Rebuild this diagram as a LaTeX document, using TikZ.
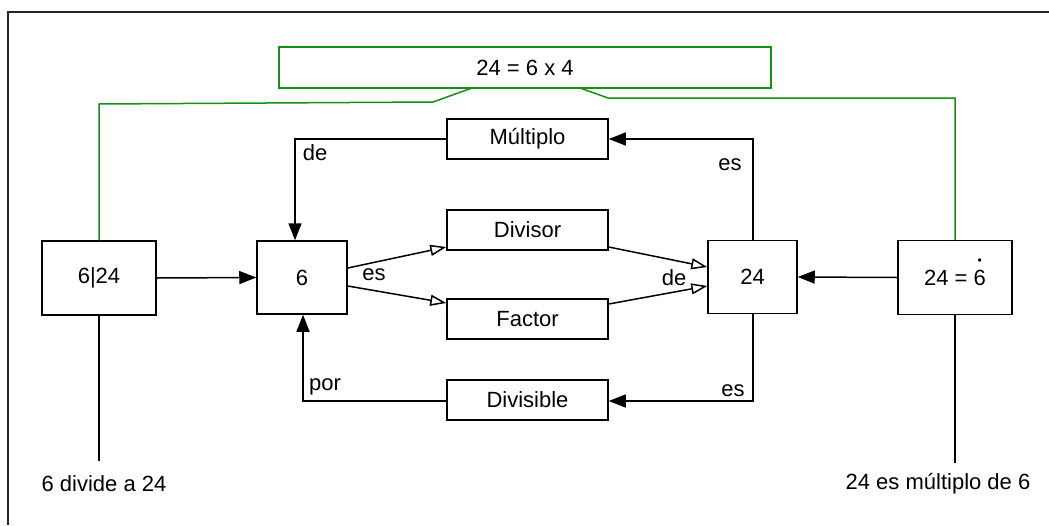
\documentclass[tikz,border=0pt]{standalone}
\usepackage{fontspec}
\setmainfont{Liberation Sans}
\usetikzlibrary{arrows.meta}
\definecolor{linkgreen}{RGB}{20,145,20}
\newcommand{\dotsix}{\ooalign{6\cr\hidewidth\raisebox{0.92em}{\scalebox{0.55}{\textbullet}}\hidewidth\cr}}
\begin{document}
\begin{tikzpicture}[x=1pt,y=-1pt,
  every node/.style={font=\fontsize{22}{26}\selectfont, inner sep=0pt},
  box/.style={draw=black, line width=1.5pt, rectangle, minimum width=#1},
  box/.default=161pt,
  greenbox/.style={draw=linkgreen, line width=1.5pt, rectangle},
  link/.style={line width=1.5pt, -{Triangle[length=17pt,width=13pt]}},
  openlink/.style={line width=1.5pt, -{Triangle[open,length=16pt,width=11pt]}},
  plain/.style={line width=1.5pt},
  greenline/.style={draw=linkgreen, line width=1.5pt}]
\useasboundingbox (0,0) rectangle (1049,525);
\fill[white] (0,0) rectangle (1049,525);
% outer frame (top and left edges)
\draw[line width=2pt, black!85] (8,525) -- (8,12) -- (1049,12);

% top equation box
\node[greenbox, minimum width=492pt, minimum height=41pt] (eq) at (525,67.5) {24 = 6 x 4};

% main boxes
\node[box=114pt, minimum height=74pt] (dv) at (99,278) {6|24};
\node[box=90pt, minimum height=73pt] (six) at (302,277.5) {6};
\node[box, minimum height=40pt] (mult) at (527.5,139) {Múltiplo};
\node[box, minimum height=40pt] (divisor) at (527.5,230) {Divisor};
\node[box, minimum height=40pt] (factor) at (527.5,319) {Factor};
\node[box, minimum height=40pt] (divisible) at (527.5,400) {Divisible};
\node[box=89pt, minimum height=73pt] (tf) at (752.5,277) {24};
\node[box=114pt, minimum height=74pt] (mul6) at (955,277.5) {24 = \dotsix};

% captions
\node (capl) at (104,484) {6 divide a 24};
\node (capr) at (938,484) {24 es múltiplo de 6};

% free ends and bends
\coordinate (dvend) at (99,461);
\coordinate (mulend) at (955,463);
\coordinate (gl1) at (99,104);
\coordinate (gl2) at (433,102);
\coordinate (gl3) at (472,88);
\coordinate (gr1) at (580,88);
\coordinate (gr2) at (608,98);
\coordinate (gr3) at (955,98);

% green links to the equation
\draw[greenline] (dv.north) -- (gl1) -- (gl2) -- (gl3);
\draw[greenline] (gr1) -- (gr2) -- (gr3) -- (mul6.north);

% caption stems
\draw[plain] (dv.south) -- (dvend);
\draw[plain] (mul6.south) -- (mulend);

% horizontal arrows
\draw[link] (dv.east) -- (six.west);
\draw[link] (mul6.west) -- (tf.east);

% loop through Múltiplo
\draw[link] ([xshift=0.5pt]tf.north) |- (mult.east);
\draw[link] (mult.west) -| ([xshift=-7pt]six.north);
\node at (730,165) {es};
\node at (315,153) {de};

% loop through Divisible
\draw[link] ([xshift=0.5pt]tf.south) |- ([yshift=-1pt]divisible.east);
\draw[link] ([yshift=-1pt]divisible.west) -| ([xshift=1pt]six.south);
\node at (733,391) {es};
\node at (325,387) {por};

% divisor / factor
\draw[openlink] ([yshift=9.5pt]six.east) -- ([yshift=-17pt]divisor.west);
\draw[openlink] ([yshift=-8.5pt]six.east) -- ([yshift=16pt]factor.west);
\draw[openlink] ([yshift=-17pt]divisor.east) -- ([yshift=10pt]tf.west);
\draw[openlink] ([yshift=15pt]factor.east) -- ([yshift=-9pt]tf.west);
\node at (374,275) {es};
\node at (674,278) {de};
\end{tikzpicture}
\end{document}
